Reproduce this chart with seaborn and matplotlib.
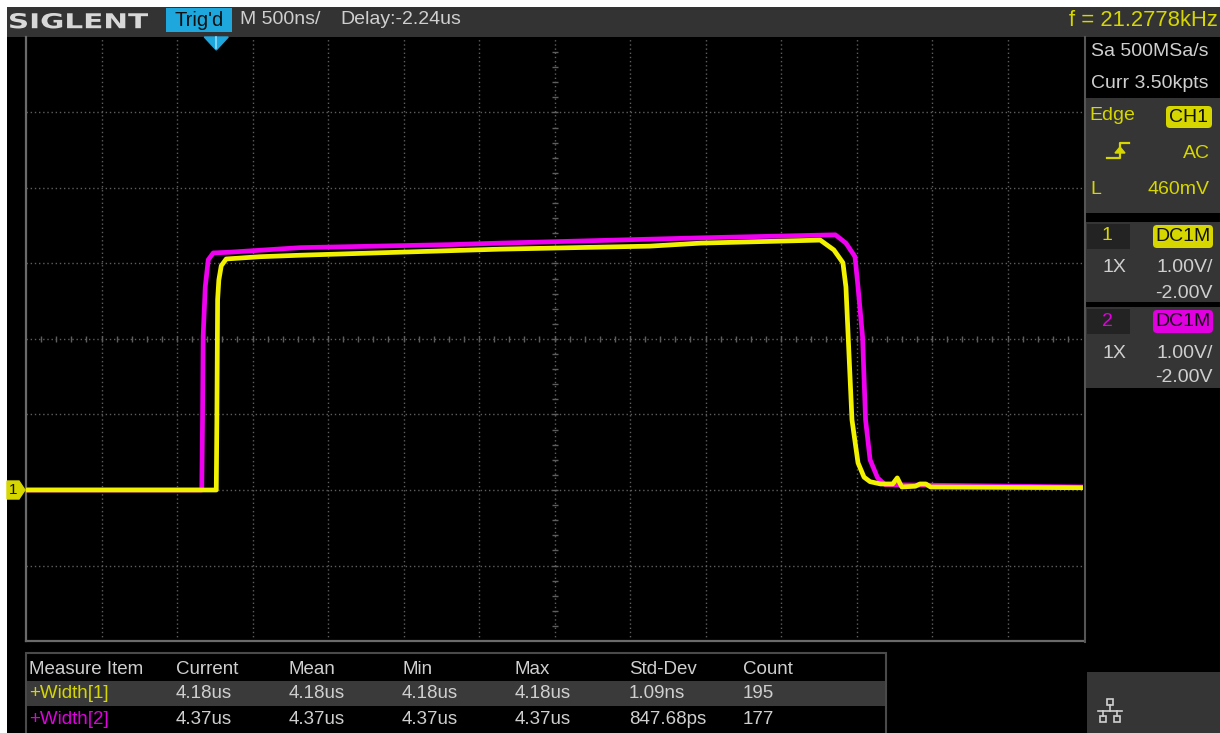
import matplotlib
matplotlib.use("Agg")
import numpy as np
import pandas as pd
import seaborn as sns
import matplotlib.pyplot as plt
from matplotlib.patches import Rectangle, Polygon, FancyBboxPatch, PathPatch
from matplotlib.textpath import TextPath
from matplotlib.font_manager import FontProperties
from matplotlib.transforms import Affine2D

# ---- acquisition settings -------------------------------------------------
timebase_us = 0.5          # 500 ns / div
delay_us = -2.24
volts_per_div = 1.00
offset_v = -2.00
h_divs, v_divs = 14, 8

# ---- captured waveforms (time in us from trigger, volts) -------------------
ch1_time_us = [-1.26, -0.02, 0.0, 0.004, 0.009, 0.017, 0.033, 0.066, 0.29, 0.56,
               1.55, 1.88, 2.87, 3.21, 4.00, 4.09, 4.15, 4.17, 4.19, 4.21, 4.25,
               4.29, 4.33, 4.40, 4.48, 4.51, 4.54, 4.63, 4.66, 4.70, 4.73, 5.74]
ch1_volts = [0.0, 0.0, 0.0, 0.93, 2.52, 2.78, 2.97, 3.06, 3.09, 3.11,
             3.17, 3.19, 3.23, 3.27, 3.31, 3.18, 3.01, 2.69, 1.81, 0.93, 0.36,
             0.17, 0.11, 0.08, 0.08, 0.16, 0.04, 0.05, 0.08, 0.08, 0.04, 0.03]

ch2_time_us = [-1.26, -0.096, -0.091, -0.087, -0.073, -0.053, -0.020, 0.093, 0.556,
               1.55, 1.88, 3.21, 4.10, 4.17, 4.23, 4.25, 4.28, 4.30, 4.33, 4.38,
               4.43, 5.74]
ch2_volts = [0.0, 0.0, 0.93, 2.03, 2.69, 3.05, 3.14, 3.15, 3.21,
             3.25, 3.27, 3.34, 3.38, 3.27, 3.09, 2.69, 2.03, 0.93, 0.40, 0.16,
             0.07, 0.04]

# ---- measurement table ------------------------------------------------------
measure_columns = ["Measure Item", "Current", "Mean", "Min", "Max", "Std-Dev", "Count"]
width1_row = ["+Width[1]", "4.18us", "4.18us", "4.18us", "4.18us", "1.09ns", "195"]
width2_row = ["+Width[2]", "4.37us", "4.37us", "4.37us", "4.37us", "847.68ps", "177"]

# ---- colours ----------------------------------------------------------------
YEL = "#f2f200"
MAG = "#f000f0"
YEL_TXT = "#d6d600"
MAG_TXT = "#e000e0"
GRAY_TXT = "#cfcfcf"
PANEL = "#353535"
BAR = "#333333"
GRID = "#5e5e5e"
CYAN = "#1ea7dc"

plt.rcParams["font.family"] = ["Liberation Sans", "DejaVu Sans"]

W, H = 1220, 733
fig = plt.figure(figsize=(W / 100, H / 100), dpi=100)
fig.patch.set_facecolor("white")

# background layer in pixel coordinates
bg = fig.add_axes([0, 0, 1, 1], zorder=0)
bg.set_xlim(0, W)
bg.set_ylim(H, 0)
bg.axis("off")


def rect(axx, x0, y0, x1, y1, color, **kw):
    axx.add_patch(Rectangle((x0, y0), x1 - x0, y1 - y0, facecolor=color,
                            edgecolor=kw.pop("edgecolor", "none"), **kw))


def rbox(axx, x0, y0, x1, y1, color, r=4):
    axx.add_patch(FancyBboxPatch((x0, y0), x1 - x0, y1 - y0,
                                 boxstyle=f"round,pad=0,rounding_size={r}",
                                 facecolor=color, edgecolor="none"))


def txt(axx, x, y, s, size=13.5, color=GRAY_TXT, ha="left", **kw):
    axx.text(x, y, s, fontsize=size, color=color, ha=ha, va="center", **kw)


# screen
rect(bg, 7, 7, W, H, "black")
rect(bg, 7, 7, W, 36.5, BAR)

# SIGLENT logo, stretched wide
tp = TextPath((0, 0), "SIGLENT", size=20,
              prop=FontProperties(family="DejaVu Sans", weight="bold"))
ext = tp.get_extents()
sx, sy = 138 / ext.width, 15.5 / ext.height
logo = Affine2D().translate(-ext.x0, -ext.y0).scale(sx, -sy).translate(10, 28.5).transform_path(tp)
bg.add_patch(PathPatch(logo, facecolor="#d8d8d8", edgecolor="none"))

# status bar
rect(bg, 166, 8, 232, 31.5, CYAN)
txt(bg, 199, 20, "Trig'd", size=14.5, color="#101010", ha="center")
txt(bg, 240, 20, "M 500ns/", size=14)
txt(bg, 340, 20, "Delay:-2.24us", size=14)
txt(bg, 1218, 20, "f = 21.2778kHz", size=15.8, color=YEL_TXT, ha="right")

# right side panel
bg.plot([1085, 1085], [37, 642], color="#555555", lw=1.5)
txt(bg, 1091, 52, "Sa 500MSa/s", size=14)
txt(bg, 1091, 83, "Curr 3.50kpts", size=14)

rect(bg, 1086, 98, W, 213, PANEL)
txt(bg, 1089, 116, "Edge", size=14, color=YEL_TXT)
rbox(bg, 1166, 106, 1212, 128, YEL_TXT)
txt(bg, 1189, 117.5, "CH1", size=14, color="#101010", ha="center")
# rising-edge trigger symbol
bg.plot([1107, 1120, 1120, 1129], [158, 158, 143, 143], color=YEL_TXT, lw=1.6)
bg.add_patch(Polygon([[1115, 153], [1125, 153], [1120, 147]], color=YEL_TXT))
txt(bg, 1210, 153, "AC", size=14, color=YEL_TXT, ha="right")
txt(bg, 1090, 190, "L", size=14, color=YEL_TXT)
txt(bg, 1210, 190, "460mV", size=14, color=YEL_TXT, ha="right")

for (top, bot, num, col, tcol) in [(222, 302, "1", YEL_TXT, YEL_TXT),
                                   (307, 388, "2", MAG_TXT, MAG_TXT)]:
    rect(bg, 1086, top, W, bot, PANEL)
    rect(bg, 1087, top + 2, 1130, top + 27, "#232323")
    txt(bg, 1107, top + 14, num, size=14, color=tcol, ha="center")
    rbox(bg, 1153, top + 3, 1213, top + 26, col)
    txt(bg, 1183, top + 14.5, "DC1M", size=14, color="#101010", ha="center")
    txt(bg, 1103, top + 46, "1X", size=14)
    txt(bg, 1213, top + 46, "1.00V/", size=14, ha="right")
    txt(bg, 1213, top + 71, "-2.00V", size=14, ha="right")

# network status box
rect(bg, 1087, 672, W, H, PANEL)
ic = "#d0d0d0"
bg.add_patch(Rectangle((1107, 699), 6, 6, facecolor="none", edgecolor=ic, lw=1.2))
bg.plot([1110, 1110], [705, 711], color=ic, lw=1.2)
bg.plot([1098, 1122], [711, 711], color=ic, lw=1.2)
bg.plot([1103, 1103], [711, 716], color=ic, lw=1.2)
bg.plot([1117, 1117], [711, 716], color=ic, lw=1.2)
bg.add_patch(Rectangle((1100, 716), 6, 6, facecolor="none", edgecolor=ic, lw=1.2))
bg.add_patch(Rectangle((1114, 716), 6, 6, facecolor="none", edgecolor=ic, lw=1.2))

# measurement table
bg.add_patch(Rectangle((26, 653), 860, 82, facecolor="black", edgecolor="#4a4a4a", lw=1.5))
rect(bg, 27, 681, 885, 706, "#3a3a3a")
col_x = [29, 176, 289, 402, 515, 629, 743]
for cx, head, a, b in zip(col_x, measure_columns, width1_row, width2_row):
    c1 = YEL_TXT if cx == col_x[0] else GRAY_TXT
    c2 = MAG_TXT if cx == col_x[0] else GRAY_TXT
    txt(bg, cx, 669, head)
    txt(bg, cx, 693.5, a, color=c1)
    txt(bg, cx, 719.5, b, color=c2)

# ---- waveform graticule -----------------------------------------------------
px_l, px_r, px_t, px_b = 26, 1083, 37, 641
ax = fig.add_axes([px_l / W, (H - px_b) / H, (px_r - px_l) / W, (px_b - px_t) / H], zorder=1)
ax.set_facecolor("black")

t_center = -delay_us
v_center = -offset_v
x0 = t_center - h_divs / 2 * timebase_us
x1 = t_center + h_divs / 2 * timebase_us
y0 = v_center - v_divs / 2 * volts_per_div
y1 = v_center + v_divs / 2 * volts_per_div

for k in range(1, h_divs):
    ax.axvline(x0 + k * timebase_us, color=GRID, lw=1.0, ls=(0, (1, 2)), zorder=1)
for k in range(1, v_divs):
    ax.axhline(y0 + k * volts_per_div, color=GRID, lw=1.0, ls=(0, (1, 2)), zorder=1)

# minor ticks on the centre cross
xt = x0 + np.arange(1, h_divs * 5) * timebase_us / 5
ax.plot(xt, np.full_like(xt, v_center), ls="none", marker="|", ms=5, mew=1.0, color=GRID, zorder=1)
yt = y0 + np.arange(1, v_divs * 5) * volts_per_div / 5
ax.plot(np.full_like(yt, t_center), yt, ls="none", marker="_", ms=5, mew=1.0, color=GRID, zorder=1)

waves = pd.concat([
    pd.DataFrame({"t": ch2_time_us, "v": ch2_volts, "ch": "CH2"}),
    pd.DataFrame({"t": ch1_time_us, "v": ch1_volts, "ch": "CH1"}),
], ignore_index=True)
sns.lineplot(data=waves, x="t", y="v", hue="ch", hue_order=["CH2", "CH1"],
             palette={"CH1": YEL, "CH2": MAG}, sort=False, estimator=None,
             linewidth=3.4, legend=False, ax=ax, zorder=3)

ax.set_xlim(x0, x1)
ax.set_ylim(y0, y1)
ax.set_xticks([])
ax.set_yticks([])
ax.set_xlabel("")
ax.set_ylabel("")
for s in ["top", "right"]:
    ax.spines[s].set_visible(False)
for s in ["left", "bottom"]:
    ax.spines[s].set_color("#6a6a6a")
    ax.spines[s].set_linewidth(1.6)

# front layer: trigger position and channel ground markers
fg = fig.add_axes([0, 0, 1, 1], zorder=2)
fg.set_xlim(0, W)
fg.set_ylim(H, 0)
fg.axis("off")
fg.patch.set_alpha(0)
trig_px = px_l + (0 - x0) / (x1 - x0) * (px_r - px_l)
fg.add_patch(Polygon([[trig_px - 12, 37], [trig_px + 12, 37], [trig_px, 50]], color=CYAN))
fg.plot([trig_px, trig_px], [37, 48], color="#8fdcff", lw=1.2)
gnd_px = px_t + (y1 - 0) / (y1 - y0) * (px_b - px_t)
fg.add_patch(Polygon([[7, gnd_px - 9], [19, gnd_px - 9], [25, gnd_px],
                      [19, gnd_px + 9], [7, gnd_px + 9]], color=YEL_TXT))
txt(fg, 13, gnd_px, "1", size=11, color="#101010", ha="center")

fig.savefig("out.png", dpi=100, facecolor=fig.get_facecolor())
